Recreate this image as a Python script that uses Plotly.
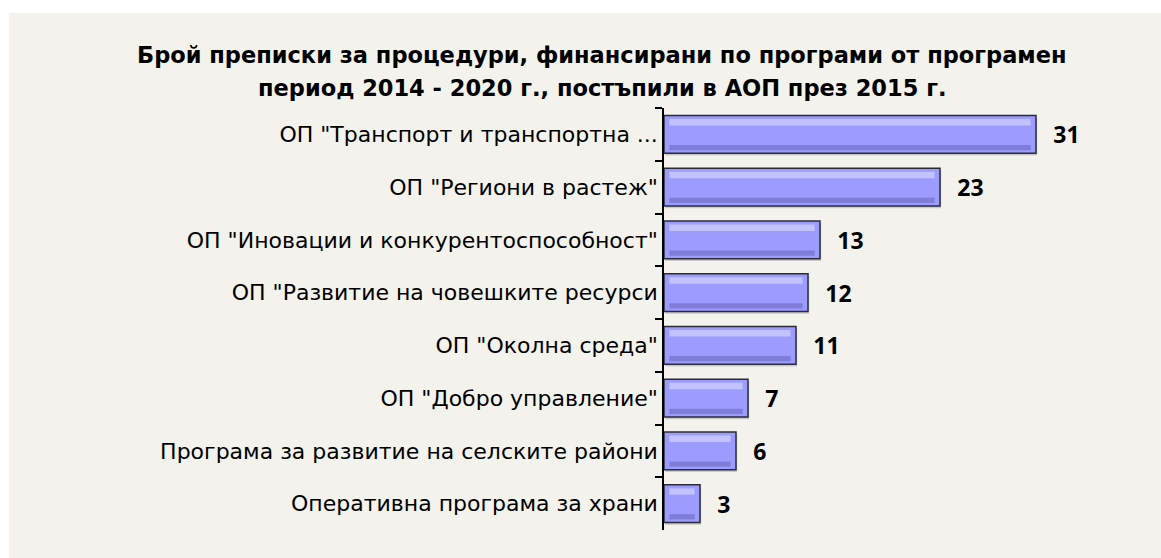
import plotly.graph_objects as go

categories = [
    'ОП "Транспорт и транспортна ...',
    'ОП "Региони в растеж"',
    'ОП "Иновации и конкурентоспособност"',
    'ОП "Развитие на човешките ресурси',
    'ОП "Околна среда"',
    'ОП "Добро управление"',
    'Програма за развитие на селските райони',
    'Оперативна програма за храни',
]
values = [31, 23, 13, 12, 11, 7, 6, 3]
title_lines = [
    "Брой преписки за процедури, финансирани по програми от програмен",
    "период 2014 - 2020 г., постъпили в АОП през 2015 г.",
]

W, H = 1161, 558
L, R, T, B = 664, 77, 108, 28
pw = W - L - R
ph = H - T - B
BG = "#f3f2ec"
LABEL_FONT = "DejaVu Sans"
NUM_FONT = "Open Sans"


def px_x(px):
    return (px - L) / pw


def px_y(py):
    return (T + ph - py) / ph


fig = go.Figure()

# shadow
fig.add_trace(go.Bar(
    y=categories, x=values, orientation="h", width=0.72, offset=-0.32,
    base=0.1, marker=dict(color="rgba(110,110,110,0.30)", line=dict(width=0)),
    hoverinfo="skip", showlegend=False,
))
# main bars
fig.add_trace(go.Bar(
    y=categories, x=values, orientation="h", width=0.72, offset=-0.36,
    marker=dict(color="#9c9cff", line=dict(color="#2b2b3a", width=1.5)),
    text=["\u00a0\u00a0\u200a" + str(v) for v in values], textposition="outside",
    textfont=dict(family=NUM_FONT, size=23, color="black", weight="bold"),
    cliponaxis=False, showlegend=False,
))
# bevel highlight (top)
fig.add_trace(go.Bar(
    y=categories, x=[v - 0.9 for v in values], base=0.45, orientation="h",
    width=0.12, offset=-0.29,
    marker=dict(color="#c2c2ff", line=dict(width=0)),
    hoverinfo="skip", showlegend=False,
))
# bevel dark (bottom)
fig.add_trace(go.Bar(
    y=categories, x=[v - 0.9 for v in values], base=0.45, orientation="h",
    width=0.1, offset=0.2,
    marker=dict(color="#7e7ed8", line=dict(width=0)),
    hoverinfo="skip", showlegend=False,
))

annotations = [
    dict(text=title_lines[0], x=px_x(602), y=px_y(55)),
    dict(text=title_lines[1], x=px_x(602), y=px_y(88)),
]
for a in annotations:
    a.update(xref="paper", yref="paper", xanchor="center", yanchor="middle",
             showarrow=False,
             font=dict(family=LABEL_FONT, size=22.5, color="black", weight="bold"))

fig.update_layout(
    width=W, height=H,
    margin=dict(l=L, r=R, t=T, b=B),
    barmode="overlay",
    paper_bgcolor="white",
    plot_bgcolor=BG,
    annotations=annotations,
    xaxis=dict(range=[0, pw / 12], visible=False, fixedrange=True),
    yaxis=dict(
        autorange="reversed", showline=True, linecolor="black", linewidth=1.5,
        ticks="outside", tickson="boundaries", ticklen=7, tickcolor="black",
        tickwidth=1.5, showgrid=False, fixedrange=True,
        tickfont=dict(family=LABEL_FONT, size=22, color="black"),
    ),
    shapes=[dict(
        type="rect", xref="paper", yref="paper", layer="below",
        x0=px_x(9), x1=px_x(W + 5),
        y0=px_y(H + 5), y1=px_y(13),
        fillcolor=BG, line=dict(width=0),
    )],
)

fig.write_html("out.html", config={"displayModeBar": False},
               post_script="document.body.style.margin='0';")
